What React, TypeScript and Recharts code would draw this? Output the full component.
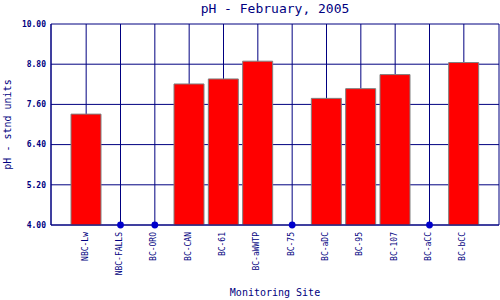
import React from 'react';
import {
  ComposedChart,
  Bar,
  Scatter,
  XAxis,
  YAxis,
  CartesianGrid,
} from 'recharts';

const sites = [
  'NBC-Lw',
  'NBC-FALLS',
  'BC-ORO',
  'BC-CAN',
  'BC-61',
  'BC-aWWTP',
  'BC-75',
  'BC-aDC',
  'BC-95',
  'BC-107',
  'BC-aCC',
  'BC-bCC',
];

const phValues: (number | null)[] = [7.31, null, null, 8.21, 8.36, 8.89, null, 7.78, 8.07, 8.49, null, 8.85];

const noSampleSites = ['NBC-FALLS', 'BC-ORO', 'BC-75', 'BC-aCC'];

const yTicks = [4.0, 5.2, 6.4, 7.6, 8.8, 10.0];
const yMin = 4.0;
const yMax = 10.0;

const titleText = 'pH - February, 2005';
const xTitle = 'Monitoring Site';
const yTitle = 'pH - stnd units';

const data = sites.map((s, i) => ({
  site: s,
  ph: phValues[i],
  noSample: noSampleSites.includes(s) ? yMin : null,
}));

const NAVY = '#000080';
const MONO = '"DejaVu Sans Mono", "Liberation Mono", monospace';

const XTick = (props: any) => {
  const { x, y, payload } = props;
  return (
    <text
      x={x + 1.5}
      y={y}
      transform={`rotate(-90, ${x + 1.5}, ${y})`}
      textAnchor="end"
      fontFamily={MONO}
      fontSize={8}
      fill={NAVY}
    >
      {payload.value}
    </text>
  );
};

const Dot = (props: any) => {
  const { cx, cy } = props;
  if (cx == null || cy == null) return null;
  return <circle cx={cx} cy={cy} r={3.4} fill="#0000CC" />;
};

export default function App() {
  return (
    <div style={{ position: 'absolute', left: 0, top: 0, width: 500, height: 300, background: '#fff' }}>
      <div
        style={{
          position: 'absolute',
          left: 50,
          width: 450,
          top: 0,
          textAlign: 'center',
          fontFamily: MONO,
          fontSize: 13,
          lineHeight: '17px',
          color: NAVY,
        }}
      >
        {titleText}
      </div>
      <ComposedChart
        width={500}
        height={300}
        data={data}
        margin={{ top: 24, right: 1, bottom: 0, left: 0 }}
      >
        <CartesianGrid stroke={NAVY} strokeWidth={1} />
        <XAxis
          dataKey="site"
          interval={0}
          height={75}
          padding={{ left: 18, right: 18 }}
          axisLine={{ stroke: NAVY }}
          tickLine={false}
          tickSize={0}
          tickMargin={7}
          tick={<XTick />}
          label={{
            value: xTitle,
            position: 'insideBottom',
            offset: 4,
            fill: NAVY,
            fontFamily: MONO,
            fontSize: 10,
          }}
        />
        <YAxis
          domain={[yMin, yMax]}
          ticks={yTicks}
          width={51}
          axisLine={{ stroke: NAVY }}
          tickLine={false}
          tickSize={0}
          tickMargin={5}
          tickFormatter={(v: number) => v.toFixed(2)}
          tick={{ fill: NAVY, fontFamily: MONO, fontSize: 8, fontWeight: 'bold' }}
          label={{
            value: yTitle,
            angle: -90,
            position: 'insideLeft',
            offset: 7,
            fill: NAVY,
            fontFamily: MONO,
            fontSize: 10,
            style: { textAnchor: 'middle' },
          }}
        />
        <YAxis
          yAxisId="border"
          orientation="right"
          domain={[yMin, yMax]}
          width={0}
          tick={false}
          tickLine={false}
          axisLine={{ stroke: NAVY }}
        />
        <Bar dataKey="ph" fill="#FF0000" stroke="#808080" strokeWidth={1} barSize={30} isAnimationActive={false} />
        <Scatter dataKey="noSample" shape={<Dot />} isAnimationActive={false} />
      </ComposedChart>
    </div>
  );
}
